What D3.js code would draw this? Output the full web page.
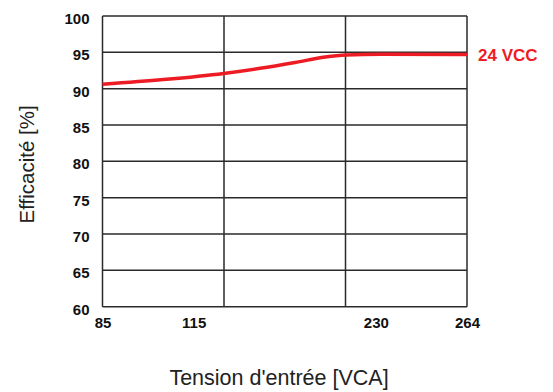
<!DOCTYPE html>
<html><head><meta charset="utf-8">
<script src="https://cdn.jsdelivr.net/npm/d3@7"></script>
<style>body{margin:0;background:#fff}svg{display:block}</style>
</head><body>
<script>
const xTicks = [85, 115, 230, 264];
const yTicks = [60, 65, 70, 75, 80, 85, 90, 95, 100];
const seriesName = "24 VCC";
const voltage = [85, 105, 134, 157, 179, 198, 211, 232, 264];
const efficiency = [90.6, 91.25, 92.1, 92.8, 93.6, 94.35, 94.63, 94.74, 94.7];
const xTitle = "Tension d'entrée [VCA]";
const yTitle = "Efficacité [%]";

const W = 553, H = 392;
const m = {left: 102.5, top: 16, right: 86, bottom: 85.3};
const w = W - m.left - m.right, h = H - m.top - m.bottom;

const svg = d3.select("body").append("svg").attr("width", W).attr("height", H);
const g = svg.append("g").attr("transform", `translate(${m.left},${m.top})`);

const x = d3.scaleLinear().domain(xTicks).range([0, w*0.25, w*0.75, w]);
const y = d3.scaleLinear().domain([60, 100]).range([h, 0]);

const gridColor = "#2a2a2a";
g.selectAll("line.hg").data(yTicks).join("line")
  .attr("x1", 0).attr("x2", w).attr("y1", d => y(d)).attr("y2", d => y(d))
  .attr("stroke", gridColor).attr("stroke-width", 1.5);
g.selectAll("line.vg").data([0, w/3, 2*w/3, w]).join("line")
  .attr("x1", d => d).attr("x2", d => d).attr("y1", 0).attr("y2", h)
  .attr("stroke", gridColor).attr("stroke-width", 1.5);

const ya = g.append("g").call(d3.axisLeft(y).tickValues(yTicks).tickSize(0).tickPadding(13));
ya.select(".domain").remove();
ya.selectAll("text").attr("font-family", "'Liberation Sans Narrow', 'Liberation Sans', Arial, sans-serif")
  .attr("font-weight", "bold").attr("font-size", 15).attr("fill", "#111").attr("dy", "0.5em");

const xa = g.append("g").attr("transform", `translate(0,${h})`)
  .call(d3.axisBottom(x).tickValues(xTicks).tickFormat(d3.format("d")).tickSize(0).tickPadding(11));
xa.select(".domain").remove();
xa.selectAll("text").attr("font-family", "'Liberation Sans Narrow', 'Liberation Sans', Arial, sans-serif")
  .attr("font-weight", "bold").attr("font-size", 15).attr("fill", "#111");

const data = voltage.map((v, i) => ({v, e: efficiency[i]}));
g.append("path").datum(data)
  .attr("d", d3.line().x(d => x(d.v)).y(d => y(d.e)).curve(d3.curveMonotoneX))
  .attr("fill", "none").attr("stroke", "#ed1c24").attr("stroke-width", 3.5);

const last = data[data.length - 1];
g.append("text").attr("x", x(last.v) + 11).attr("y", y(last.e) + 6)
  .attr("font-family", "'Liberation Sans', Arial, sans-serif").attr("font-weight", "bold")
  .attr("font-size", 17).attr("fill", "#ed1c24").text(seriesName);

svg.append("text").attr("x", 279).attr("y", 385).attr("text-anchor", "middle")
  .attr("font-family", "'Liberation Sans', Arial, sans-serif").attr("font-size", 21.5).attr("fill", "#222")
  .text(xTitle);
svg.append("text").attr("transform", `translate(34,${m.top + h/2 + 3}) rotate(-90)`).attr("text-anchor", "middle")
  .attr("font-family", "'Liberation Sans', Arial, sans-serif").attr("font-size", 20.5).attr("fill", "#222")
  .text(yTitle);
</script>
</body></html>
